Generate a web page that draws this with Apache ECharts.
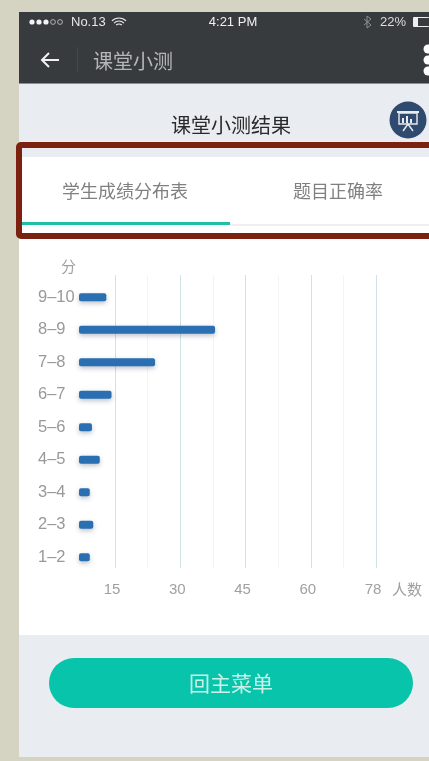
<!DOCTYPE html>
<html><head><meta charset="utf-8">
<style>html,body{margin:0;padding:0;background:#d5d4c2;overflow:hidden}#c{width:429px;height:761px}</style>
<script src="https://cdn.jsdelivr.net/npm/echarts@6/dist/echarts.min.js"></script>
</head><body><div id="c"></div>
<script>
const categories = ['1–2','2–3','3–4','4–5','5–6','6–7','7–8','8–9','9–10'];
const counts = [9.2,10,9.2,11.5,9.7,14.2,24.2,38,13];
const tickValues = [15,30,45,60,75];
const tickLabels = ['15','30','45','60','78'];
const faintLines = [22.5,37.5,52.5,67.5];
const CJK = '"Noto Sans CJK SC","Noto Sans",sans-serif';
const LAT = '"Liberation Sans","Noto Sans CJK SC",sans-serif';
const txt = (x,y,text,size,fill,align,font,weight)=>({type:'text',z:5,x,y,style:{text,fontSize:size,fill,align:align||'left',verticalAlign:'middle',fontFamily:font||CJK,fontWeight:weight||'normal'}});
const rect = (x,y,w,h,fill,r,z)=>({type:'rect',z:z===undefined?-5:z,shape:{x,y,width:w,height:h,r:r||0},style:{fill}});
const circ = (cx,cy,r,fill,stroke)=>({type:'circle',z:5,shape:{cx,cy,r},style:stroke?{fill:'none',stroke,lineWidth:0.8}:{fill}});
const line = (pts,stroke,w)=>({type:'polyline',z:5,shape:{points:pts},style:{fill:'none',stroke,lineWidth:w||1.5}});
const arc = (cx,cy,r,stroke)=>({type:'arc',z:5,shape:{cx,cy,r,startAngle:-Math.PI*0.75,endAngle:-Math.PI*0.25},style:{fill:'none',stroke,lineWidth:1.2}});

const chrome = [
  rect(0,0,429,761,'#d5d4c2'),
  rect(19,12,410,72,'#383b3e'),
  rect(19,83,410,1,'#8b8f93'),
  rect(19,84,410,73,'#e9ecf1'),
  rect(19,157,410,478,'#ffffff'),
  rect(19,635,410,122,'#e9ecf1'),
  circ(32,22,2.6,'#f2f2f2'),circ(39,22,2.6,'#f2f2f2'),circ(46,22,2.6,'#f2f2f2'),
  circ(53,22,2.4,null,'#cccccc'),circ(60,22,2.4,null,'#cccccc'),
  txt(71,22,'No.13',13,'#e6e6e6','left',LAT),
  arc(119,28,4,'#eeeeee'),arc(119,28,7,'#eeeeee'),arc(119,28,10,'#eeeeee'),
  txt(233,22,'4:21 PM',13,'#f0f0f0','center',LAT),
  line([[364,19],[371,25],[367,28],[367,16],[371,19],[364,25]],'#8c8f92',1),
  txt(380,22,'22%',13,'#dddddd','left',LAT),
  rect(413,17,16,10,'#eeeeee',1,5),
  rect(418,18,11,8,'#383b3e',0,6),
  line([[42,60],[59,60]],'#f2f2f2',2),
  line([[49,53],[42,60],[49,67]],'#f2f2f2',2),
  rect(77,47,1,25,'#45484b',0,5),
  txt(93,61,'课堂小测',20,'#b4b6b8'),
  circ(428,49,4.5,'#ffffff'),circ(428,60,4.5,'#ffffff'),circ(428,71,4.5,'#ffffff'),
  txt(231,125,'课堂小测结果',20,'#2a2a2a','center'),
  circ(408,120,18.5,'#2f4a6e'),
  rect(397,111,22,2,'#e8ecf1',0,6),
  {type:'rect',z:6,shape:{x:399,y:113,width:18,height:11},style:{fill:'none',stroke:'#e8ecf1',lineWidth:1.4}},
  rect(402,118,2,5,'#e8ecf1',0,6),rect(406,116,2,7,'#e8ecf1',0,6),rect(410,119,2,4,'#e8ecf1',0,6),
  {type:'polyline',z:6,shape:{points:[[403,131],[408,124],[413,131]]},style:{fill:'none',stroke:'#e8ecf1',lineWidth:1.4}},
  txt(125,191,'学生成绩分布表',18,'#808080','center'),
  txt(338,191,'题目正确率',18,'#808080','center'),
  rect(230,224,199,2,'#f0f0f0',0,3),
  rect(22,222,208,3,'#1fbfa8',0,3),
  {type:'rect',z:4,shape:{x:19,y:145,width:420,height:91,r:2},style:{fill:'none',stroke:'#7c2010',lineWidth:6}},
  rect(49,658,364,50,'#08c4ab',25,3),
  txt(231,683,'回主菜单',21,'#c9f1e8','center')
];

const chart = echarts.init(document.getElementById('c'));
chart.setOption({
  animation:false,
  backgroundColor:'#d5d4c2',
  graphic:{elements:chrome},
  grid:[
    {left:49.8,width:326.2,top:275,height:293},
    {left:79,width:297,top:281,height:292.5}
  ],
  xAxis:[
    {gridIndex:0,type:'value',min:0,max:75,interval:15,
     axisLine:{show:false},axisTick:{show:false},
     splitLine:{show:true,showMinLine:false,lineStyle:{color:'#cfe3e6',width:1}},
     axisLabel:{margin:14,fontSize:15,color:'#a0a0a0',fontFamily:LAT,padding:[0,6,0,0],
       formatter:v=>{const i=tickValues.indexOf(v);return i<0?'':tickLabels[i];}},
     name:'人数',nameLocation:'end',nameGap:16,
     nameTextStyle:{fontSize:15,color:'#a0a0a0',fontFamily:CJK,align:'left',verticalAlign:'top',padding:[14,0,0,0]}},
    {gridIndex:1,type:'value',min:6.72,max:75,show:false,splitLine:{show:false}}
  ],
  yAxis:[
    {gridIndex:0,type:'category',data:categories,show:false},
    {gridIndex:1,type:'category',data:categories,
     axisLine:{show:false},axisTick:{show:false},splitLine:{show:false},
     axisLabel:{align:'left',margin:41,fontSize:16.5,color:'#999999',fontFamily:LAT},
     name:'分',nameLocation:'end',nameGap:7,
     nameTextStyle:{fontSize:15,color:'#a0a0a0',fontFamily:CJK,align:'right',padding:[0,3,0,0]}}
  ],
  series:[
    {type:'bar',xAxisIndex:0,yAxisIndex:0,data:[],silent:true,z:1,
     markLine:{silent:true,z:1,symbol:'none',label:{show:false},animation:false,
       lineStyle:{color:'#f1f5f5',width:1,type:'solid'},
       data:faintLines.map(v=>({xAxis:v}))}},
    {type:'bar',xAxisIndex:1,yAxisIndex:1,data:counts,barWidth:8,z:3,
     itemStyle:{color:'#2b6fb3',borderRadius:2,shadowColor:'rgba(30,50,80,0.3)',shadowBlur:5,shadowOffsetY:2}}
  ]
});
</script></body></html>
